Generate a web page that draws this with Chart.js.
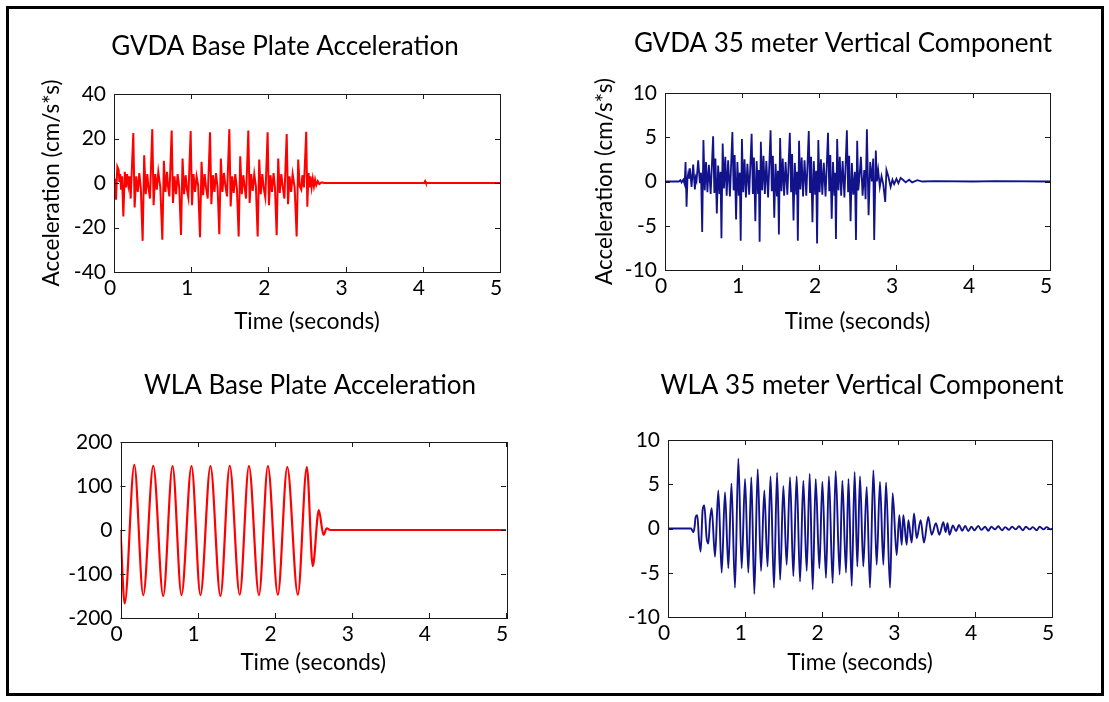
<!DOCTYPE html>
<html>
<head>
<meta charset="utf-8">
<title>Base plate and 35 m vertical acceleration</title>
<script src="https://cdn.jsdelivr.net/npm/chart.js@4.4.1/dist/chart.umd.min.js"></script>
<style>
  html, body { margin: 0; padding: 0; background: #fff; }
  body { width: 1109px; height: 702px; position: relative; overflow: hidden; }
  #frame { position: absolute; left: 6px; top: 6px; width: 1092px; height: 684px; border: 3px solid #000; }
  canvas { position: absolute; }
</style>
</head>
<body>
<div id="frame"></div>
<canvas id="gvdaBaseChart" width="530" height="330" style="left:20px;top:20px"></canvas>
<canvas id="gvdaVertChart" width="526" height="330" style="left:580px;top:20px"></canvas>
<canvas id="wlaBaseChart" width="540" height="330" style="left:40px;top:360px"></canvas>
<canvas id="wlaVertChart" width="484" height="330" style="left:620px;top:360px"></canvas>
<script>
// [time (s), acceleration (cm/s*s)] samples for each record

const gvdaBase = [
  [0.000, 0], [0.010, 2], [0.026, -7.5], [0.043, 7.4], [0.060, 6], [0.070, 0.5], [0.080, 4],
  [0.092, -3], [0.104, 3], [0.121, -15], [0.140, 5], [0.155, -2], [0.170, 4], [0.186, -1],
  [0.200, 3], [0.216, -7],
  [0.250, 22.5], [0.267, -11], [0.288, 3], [0.308, -4], [0.328, 4.5], [0.348, -3], [0.371, -26],
  [0.391, 12.5], [0.411, -5], [0.431, 4], [0.446, -2], [0.466, -7],
  [0.496, 24.2], [0.513, -10], [0.534, 4], [0.554, -3], [0.574, 5], [0.600, -2], [0.626, -25.5],
  [0.646, 10], [0.666, -4], [0.686, 5], [0.700, -1.5], [0.717, -6],
  [0.747, 23.6], [0.764, -9], [0.784, 3], [0.804, -5], [0.824, 4], [0.845, -2], [0.868, -23.4],
  [0.888, 11], [0.908, -5], [0.928, 3.5], [0.945, -3], [0.963, -6.5],
  [0.993, 23.4], [1.010, -10], [1.030, 4], [1.050, -4], [1.070, 3], [1.090, -1], [1.114, -24.4],
  [1.134, 9.5], [1.154, -5.5], [1.174, 4], [1.192, -2], [1.214, -7],
  [1.244, 22.8], [1.261, -9.5], [1.281, 3.5], [1.301, -4], [1.321, 4.5], [1.342, -2], [1.364, -23],
  [1.384, 11], [1.404, -4], [1.424, 4.5], [1.444, -1.5], [1.464, -6],
  [1.494, 24.2], [1.511, -10.5], [1.531, 3], [1.551, -4.5], [1.571, 4], [1.592, -2.5], [1.615, -24],
  [1.635, 12], [1.655, -5], [1.675, 3.5], [1.693, -2], [1.710, -7],
  [1.740, 23.6], [1.757, -9], [1.777, 4], [1.797, -3.5], [1.817, 4], [1.838, -1.5], [1.861, -24],
  [1.881, 10.5], [1.901, -5], [1.921, 4], [1.940, -2.5], [1.960, -6.5],
  [1.990, 22.8], [2.007, -10], [2.027, 3.5], [2.047, -4], [2.067, 4.5], [2.085, -2], [2.107, -23.5],
  [2.127, 11], [2.147, -4.5], [2.167, 4], [2.187, -2], [2.207, -7],
  [2.237, 22], [2.254, -9.5], [2.274, 3], [2.294, -4], [2.314, 4], [2.340, -2], [2.366, -24],
  [2.386, 10.5], [2.406, -1.5], [2.426, -3], [2.440, 3.5], [2.460, -2],
  [2.490, 23], [2.504, -10.7], [2.520, 4.5], [2.534, -2], [2.545, 3], [2.560, -2], [2.575, 2],
  [2.590, -1.5], [2.605, 1.5], [2.620, -1], [2.640, 0.8], [2.660, -0.5], [2.690, 0.3], [2.720, 0],
  [4.020, 0], [4.030, 0.8], [4.040, 0], [5.000, 0]
];

const gvdaVert = [
  [0.000, 0], [0.180, 0], [0.200, 0.15], [0.215, -0.1], [0.237, 0.2], [0.255, -0.3], [0.267, 2.2],
  [0.280, -2.85], [0.292, 0.3], [0.302, 0.9], [0.312, 0.4], [0.323, 1.5], [0.345, -0.6],
  [0.366, 1.9], [0.388, -0.9], [0.400, 0.4], [0.410, 0.1], [0.431, 2.4], [0.453, -0.2], [0.468, 1.0],
  [0.483, -5.7], [0.499, 4.7], [0.516, -1.0], [0.533, 2.2], [0.551, -1.2], [0.570, 1.9], [0.593, -1.4],
  [0.625, 5.1], [0.641, -1.3], [0.655, 2.6], [0.673, -3.6], [0.690, 1.8], [0.708, -1.4], [0.721, 1.1],
  [0.733, -6.4], [0.749, 4.3], [0.766, -0.8], [0.783, 2.8], [0.801, -1.6], [0.820, 2.4], [0.843, -1.7],
  [0.875, 5.6], [0.891, -1.0], [0.905, 3.0], [0.923, -4.3], [0.940, 2.2], [0.958, -1.6], [0.971, 1.0],
  [0.983, -6.7], [0.999, 4.8], [1.016, -1.2], [1.033, 2.5], [1.051, -1.8], [1.070, 2.0], [1.093, -1.5],
  [1.125, 5.4], [1.141, -1.4], [1.155, 2.7], [1.173, -4.5], [1.190, 2.3], [1.208, -1.3], [1.218, 1.3],
  [1.229, -6.8], [1.245, 4.5], [1.262, -1.0], [1.279, 2.9], [1.297, -1.4], [1.316, 2.3], [1.339, -1.8],
  [1.371, 5.8], [1.387, -1.1], [1.401, 2.9], [1.419, -4.1], [1.436, 2.0], [1.454, -1.7], [1.467, 1.2],
  [1.479, -6.0], [1.495, 4.9], [1.512, -1.1], [1.529, 2.6], [1.547, -1.6], [1.566, 2.2], [1.589, -1.5],
  [1.621, 5.5], [1.637, -1.2], [1.651, 3.1], [1.669, -4.4], [1.686, 2.1], [1.704, -1.4], [1.714, 1.1],
  [1.725, -6.7], [1.741, 4.6], [1.758, -0.9], [1.775, 2.7], [1.793, -1.7], [1.812, 2.4], [1.835, -1.6],
  [1.867, 5.7], [1.883, -1.3], [1.897, 2.8], [1.915, -4.6], [1.932, 2.3], [1.950, -1.5], [1.963, 1.2],
  [1.975, -7.0], [1.991, 4.7], [2.008, -1.2], [2.025, 2.5], [2.043, -1.5], [2.062, 2.1], [2.085, -1.7],
  [2.117, 5.5], [2.133, -1.1], [2.147, 3.0], [2.165, -4.2], [2.182, 2.2], [2.200, -1.6], [2.210, 1.0],
  [2.220, -6.5], [2.236, 4.8], [2.253, -1.0], [2.270, 2.8], [2.288, -1.6], [2.307, 2.3], [2.330, -1.8],
  [2.362, 5.8], [2.378, -1.2], [2.392, 2.9], [2.410, -4.5], [2.427, 2.1], [2.445, -1.5], [2.466, 1.1],
  [2.480, -6.6], [2.496, 4.6], [2.510, -1.0], [2.523, 0.2], [2.544, 2.8], [2.566, -1.6], [2.588, 1.3],
  [2.605, -2.0], [2.622, 5.9], [2.644, -3.8], [2.665, 2.2], [2.687, 0.0], [2.704, 2.6],
  [2.717, -6.6], [2.738, 3.5], [2.751, 0.0], [2.768, 1.3], [2.790, -0.6], [2.812, 0.6], [2.834, -0.3],
  [2.860, -2.3], [2.876, 1.3], [2.900, 0.6], [2.930, -0.6], [2.954, 0.2], [2.976, -0.3], [3.006, 0.3],
  [3.031, -0.2], [3.060, 0.4], [3.090, 0.2], [3.126, -0.1], [3.170, 0.2], [3.210, -0.1], [3.277, 0.15],
  [3.340, 0], [3.500, 0.05], [4.000, 0], [4.300, 0.05], [5.000, 0]
];

const wlaBase = [
  [0.000, 0], [0.054, -167], [0.179, 148], [0.295, -148], [0.425, 146], [0.554, -150],
  [0.675, 145], [0.791, -148], [0.921, 145], [1.037, -148], [1.167, 145], [1.296, -150],
  [1.417, 146], [1.546, -147], [1.666, 145], [1.796, -148], [1.912, 145], [2.041, -147],
  [2.163, 143], [2.300, -147], [2.417, 143], [2.494, -82], [2.572, 45], [2.633, -11],
  [2.675, 4], [2.720, 0], [5.000, 0]
];

const wlaVert = [
  [0.000, 0], [0.300, 0], [0.330, -0.4], [0.345, 0.1], [0.360, 1.3], [0.382, 1.5], [0.404, -1.3],
  [0.425, -2.6], [0.451, 2.1], [0.473, 2.6], [0.503, -1.1], [0.525, -1.7], [0.547, 1.0], [0.569, 2.3],
  [0.612, -3.2], [0.655, 4.3], [0.699, -5.0], [0.742, 4.1], [0.786, -4.5], [0.826, 5.1], [0.872, -6.7],
  [0.916, 7.9], [0.959, -4.5], [1.003, 5.6], [1.046, -5.0], [1.085, 5.8], [1.124, -7.4], [1.168, 6.7],
  [1.211, -4.8], [1.254, 4.3], [1.296, -4.3], [1.335, 5.9], [1.380, -6.7], [1.420, 6.3], [1.460, -5.8],
  [1.502, 4.8], [1.545, -4.1], [1.589, 5.8], [1.632, -5.4], [1.675, 5.9], [1.719, -6.0], [1.762, 5.4],
  [1.806, -4.8], [1.845, 6.2], [1.884, -6.9], [1.923, 5.6], [1.971, -4.5], [2.010, 5.3], [2.057, -5.6],
  [2.095, 5.9], [2.144, -6.2], [2.183, 6.5], [2.235, -5.2], [2.270, 5.4], [2.318, -5.0], [2.350, 5.6],
  [2.392, -6.5], [2.430, 6.4], [2.465, -4.3], [2.500, 5.9], [2.543, -4.3], [2.587, 4.7], [2.630, -6.7],
  [2.674, 6.6], [2.717, -4.1], [2.760, 5.3], [2.804, -4.1], [2.839, 5.2], [2.891, -6.7], [2.925, 4.0],
  [2.977, -3.0], [3.012, 1.5], [3.043, -1.85], [3.064, 1.5], [3.108, -1.85], [3.130, 0.95],
  [3.173, -1.6], [3.203, 1.7], [3.238, -1.1], [3.290, 0.95], [3.333, -1.6], [3.389, 1.3],
  [3.433, -0.7], [3.489, 0.6], [3.533, -0.7], [3.585, 0.7], [3.615, -0.4], [3.640, 0.6],
  [3.665, -0.7], [3.710, 0.35], [3.750, -0.3], [3.790, 0.4], [3.830, -0.25], [3.870, 0.3],
  [3.910, -0.3], [3.950, 0.2], [3.990, -0.2], [4.040, 0.3], [4.080, -0.15], [4.130, 0.2],
  [4.170, -0.25], [4.210, 0.2], [4.260, -0.1], [4.300, 0.25], [4.350, -0.2], [4.390, 0.15],
  [4.440, -0.15], [4.480, 0.2], [4.530, -0.1], [4.570, 0.25], [4.620, -0.2], [4.660, 0.2],
  [4.710, -0.1], [4.750, 0.15], [4.800, -0.2], [4.840, 0.2], [4.890, -0.1], [4.930, 0.15],
  [4.980, -0.1], [5.000, 0]
];

const timeTicks = [0, 1, 2, 3, 4, 5];
const gvdaBaseTicks = [-40, -20, 0, 20, 40];
const gvdaVertTicks = [-10, -5, 0, 5, 10];
const wlaBaseTicks = [-200, -100, 0, 100, 200];
const wlaVertTicks = [-10, -5, 0, 5, 10];

const FONT = "Lato, 'Open Sans', sans-serif";
const RED = "#ff0000";
const NAVY = "#12128a";

Chart.defaults.color = "#000";

// Box around the plot area with short tick marks pointing inwards on all four sides
const boxTicks = {
  id: "boxTicks",
  afterDatasetsDraw(chart) {
    const { ctx, chartArea: a, scales } = chart;
    const len = 5;
    ctx.save();
    ctx.strokeStyle = "#1a1a1a";
    ctx.lineWidth = 1;
    ctx.beginPath();
    scales.x.ticks.forEach(t => {
      const px = Math.round(scales.x.getPixelForValue(t.value)) + 0.5;
      ctx.moveTo(px, a.bottom);
      ctx.lineTo(px, a.bottom - len);
      ctx.moveTo(px, a.top);
      ctx.lineTo(px, a.top + len);
    });
    scales.y.ticks.forEach(t => {
      const py = Math.round(scales.y.getPixelForValue(t.value)) + 0.5;
      ctx.moveTo(a.left, py);
      ctx.lineTo(a.left + len, py);
      ctx.moveTo(a.right, py);
      ctx.lineTo(a.right - len, py);
    });
    ctx.stroke();
    ctx.strokeRect(Math.round(a.left) + 0.5, Math.round(a.top) + 0.5,
      Math.round(a.width), Math.round(a.height));
    ctx.restore();
  }
};

function buildPanel(id, p) {
  const ctx = document.getElementById(id).getContext("2d");
  const tickFont = { family: FONT, size: 21 };
  const labelFont = { family: FONT, size: 22.5 };

  new Chart(ctx, {
    type: "line",
    data: {
      datasets: [
        {
          data: p.data,
          borderColor: p.color,
          borderWidth: p.lineWidth,
          pointRadius: 0,
          fill: false,
          tension: 0,
          cubicInterpolationMode: p.smooth ? "monotone" : "default"
        }
      ]
    },
    options: {
      responsive: false,
      animation: false,
      events: [],
      layout: { padding: 0 },
      plugins: {
        legend: { display: false },
        tooltip: { enabled: false },
        title: {
          display: true,
          text: p.title,
          color: "#000",
          font: { family: FONT, size: 26, weight: "normal" },
          padding: { top: p.titleTop, bottom: p.titleBottom }
        }
      },
      scales: {
        x: {
          type: "linear",
          min: timeTicks[0],
          max: timeTicks[timeTicks.length - 1],
          grid: { display: false, drawTicks: false },
          border: { display: false },
          afterBuildTicks: s => { s.ticks = timeTicks.map(v => ({ value: v })); },
          ticks: { font: tickFont, color: "#000", padding: 4, labelOffset: -4, maxRotation: 0 },
          title: {
            display: true,
            text: "Time (seconds)",
            color: "#000",
            font: labelFont,
            padding: { top: 0, bottom: p.xTitleBottom }
          },
          afterFit: s => { s.height = p.xHeight; }
        },
        y: {
          type: "linear",
          min: p.yTicks[0],
          max: p.yTicks[p.yTicks.length - 1],
          grid: { display: false, drawTicks: false },
          border: { display: false },
          afterBuildTicks: s => { s.ticks = p.yTicks.map(v => ({ value: v })); },
          ticks: { font: tickFont, color: "#000", padding: 8 },
          title: {
            display: !!p.yTitle,
            text: p.yTitle || "",
            color: "#000",
            font: labelFont,
            padding: { top: p.yTitleTop || 0, bottom: 0 }
          },
          afterFit: s => { s.width = p.yWidth; }
        },
        // empty right-hand strip so the title stays centred on the whole canvas
        gutter: {
          type: "linear",
          position: "right",
          grid: { display: false, drawTicks: false },
          border: { display: false },
          ticks: { display: false },
          afterFit: s => { s.width = p.gutter; }
        }
      }
    },
    plugins: [boxTicks]
  });
}

buildPanel("gvdaBaseChart", {
  data: gvdaBase, color: RED, lineWidth: 2, smooth: false, yTicks: gvdaBaseTicks,
  title: "GVDA Base Plate Acceleration", yTitle: "Acceleration (cm/s*s)",
  gutter: 50, yWidth: 94, xHeight: 78, titleTop: 11.4, titleBottom: 31.4,
  yTitleTop: 18.5, xTitleBottom: 14.5
});

buildPanel("gvdaVertChart", {
  data: gvdaVert, color: NAVY, lineWidth: 1.8, smooth: false, yTicks: gvdaVertTicks,
  title: "GVDA 35 meter Vertical Component", yTitle: "Acceleration (cm/s*s)",
  gutter: 56, yWidth: 85, xHeight: 80, titleTop: 8.4, titleBottom: 33.4,
  yTitleTop: 11.5, xTitleBottom: 14.5
});

buildPanel("wlaBaseChart", {
  data: wlaBase, color: RED, lineWidth: 2.2, smooth: true, yTicks: wlaBaseTicks,
  title: "WLA Base Plate Acceleration",
  gutter: 74, yWidth: 80.5, xHeight: 72, titleTop: 10.4, titleBottom: 40.4,
  xTitleBottom: 13.5
});

buildPanel("wlaVertChart", {
  data: wlaVert, color: NAVY, lineWidth: 1.9, smooth: true, yTicks: wlaVertTicks,
  title: "WLA 35 meter Vertical Component",
  gutter: 52, yWidth: 48, xHeight: 73, titleTop: 10.4, titleBottom: 38.4,
  xTitleBottom: 13.5
});
</script>
</body>
</html>
